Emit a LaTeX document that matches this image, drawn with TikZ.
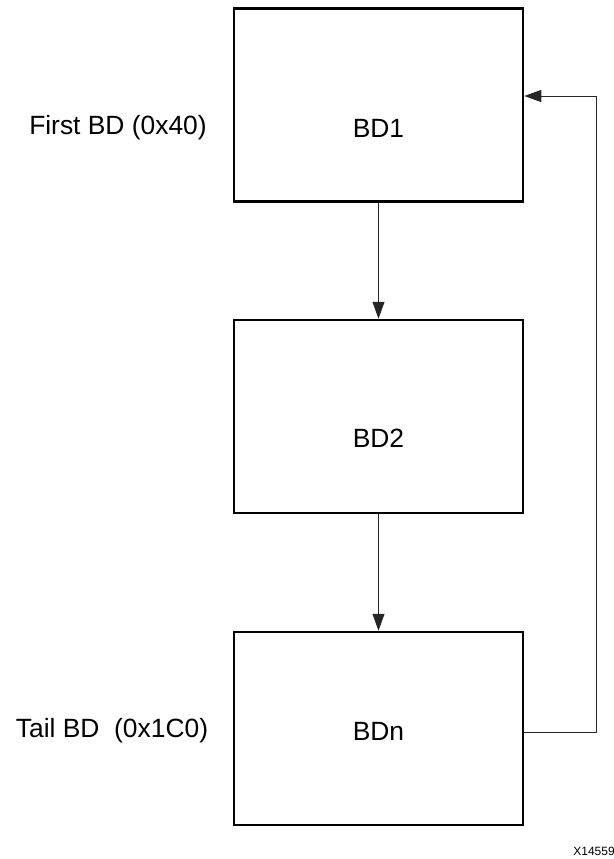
\documentclass[tikz,border=0pt]{standalone}
\usepackage{fontspec}
\setmainfont{Liberation Sans}
\usepackage{tikz}
\usetikzlibrary{arrows.meta, positioning}

\begin{document}
\begin{tikzpicture}[x=0.5pt, y=-0.5pt,
    bdbox/.style={rectangle, draw=black, line width=1.25pt, minimum width=144.5pt,
      minimum height=96.5pt, inner sep=0pt},
    tag/.style={font=\fontsize{13.2}{15}\selectfont, inner sep=0pt},
    link/.style={draw=black!85, line width=0.5pt, -{Triangle[length=8.5pt, width=6pt]}}]
    \useasboundingbox (0,0) rectangle (614,859);
    \node[bdbox] (bd1) at (378.5,105) {};
    \node[bdbox] (bd2) at (378.5,416.5) {};
    \node[bdbox] (bdn) at (378.5,728.5) {};
    \node[tag] (bd1txt) at (378.5,128) {BD1};
    \node[tag] (bd2txt) at (378.5,438) {BD2};
    \node[tag] (bdntxt) at (378.5,731) {BDn};
    \node[tag] (first) at (118,128) {First BD (0x40)};
    \node[tag] (tail) at (112,731) {Tail BD\ \ (0x1C0)};
    \node[font=\fontsize{6}{7}\selectfont, anchor=west, inner sep=0pt] (fig) at (573,851) {X14559};
    % feedback corners
    \coordinate (up) at (596,732);
    \coordinate (top) at (596,96);
    \draw[link] (bd1) -- (bd2);
    \draw[link] (bd2) -- (bdn);
    \draw[link] (bdn.east |- up) -- (up) -- (top) -- (bd1.east |- top);
  \end{tikzpicture}
\end{document}
